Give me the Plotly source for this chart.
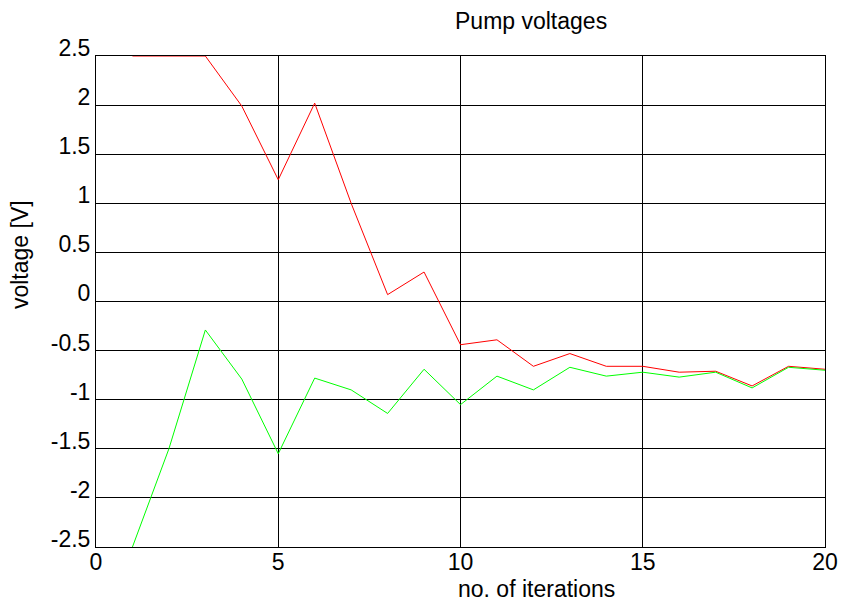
import plotly.graph_objects as go

# iteration index
iterations = list(range(1, 21))

# pump voltages per iteration [V]
pump_1 = [2.5, 2.5, 2.5, 1.99, 1.24, 2.02, 1.0, 0.07, 0.30, -0.44,
          -0.39, -0.66, -0.53, -0.66, -0.66, -0.72, -0.71, -0.86, -0.66, -0.69]
pump_2 = [-2.5, -1.5, -0.29, -0.79, -1.55, -0.78, -0.90, -1.14, -0.69, -1.05,
          -0.76, -0.90, -0.67, -0.76, -0.72, -0.77, -0.72, -0.88, -0.67, -0.70]

x_ticks = [0, 5, 10, 15, 20]
x_tick_text = ["0", "5", "10", "15", "20"]
y_ticks = [-2.5, -2, -1.5, -1, -0.5, 0, 0.5, 1, 1.5, 2, 2.5]
y_tick_text = ["-2.5", "-2", "-1.5", "-1", "-0.5", "0", "0.5", "1", "1.5", "2", "2.5"]

FONT = "Liberation Sans, Arial, sans-serif"
FS = 23

fig = go.Figure()
fig.add_trace(go.Scatter(x=iterations, y=pump_1, mode="lines",
                         line=dict(color="#ff0000", width=1), showlegend=False))
fig.add_trace(go.Scatter(x=iterations, y=pump_2, mode="lines",
                         line=dict(color="#00ff00", width=1), showlegend=False))

axis_common = dict(
    showline=True, linecolor="black", linewidth=1, mirror=True,
    showgrid=True, gridcolor="black", gridwidth=1,
    zeroline=False, ticks="", layer="below traces", automargin=False,
    ticklabeloverflow="allow",
    tickfont=dict(family=FONT, size=FS, color="black"),
)

fig.update_xaxes(range=[0, 20], tickvals=x_ticks, ticktext=x_tick_text,
                 ticklabelstandoff=-6, **axis_common)
fig.update_yaxes(range=[-2.5, 2.5], tickvals=y_ticks, ticktext=y_tick_text,
                 ticklabelposition="outside top", ticklabelshift=8,
                 **axis_common)

fig.add_annotation(text="Pump voltages", xref="paper", yref="paper",
                   x=0.597, y=1.071, xanchor="center", yanchor="middle",
                   showarrow=False, font=dict(family=FONT, size=FS, color="black"))
fig.add_annotation(text="no. of iterations", xref="paper", yref="paper",
                   x=0.6036, y=-0.085, xanchor="center", yanchor="middle",
                   showarrow=False, font=dict(family=FONT, size=FS, color="black"))
fig.add_annotation(text="voltage [V]", xref="paper", yref="paper",
                   x=-0.104, y=0.595, xanchor="center", yanchor="middle",
                   textangle=-90, showarrow=False,
                   font=dict(family=FONT, size=FS, color="black"))

fig.update_layout(
    width=842, height=602,
    margin=dict(l=96, r=17, t=56, b=55),
    paper_bgcolor="white", plot_bgcolor="white",
)

fig.write_html("out.html")
